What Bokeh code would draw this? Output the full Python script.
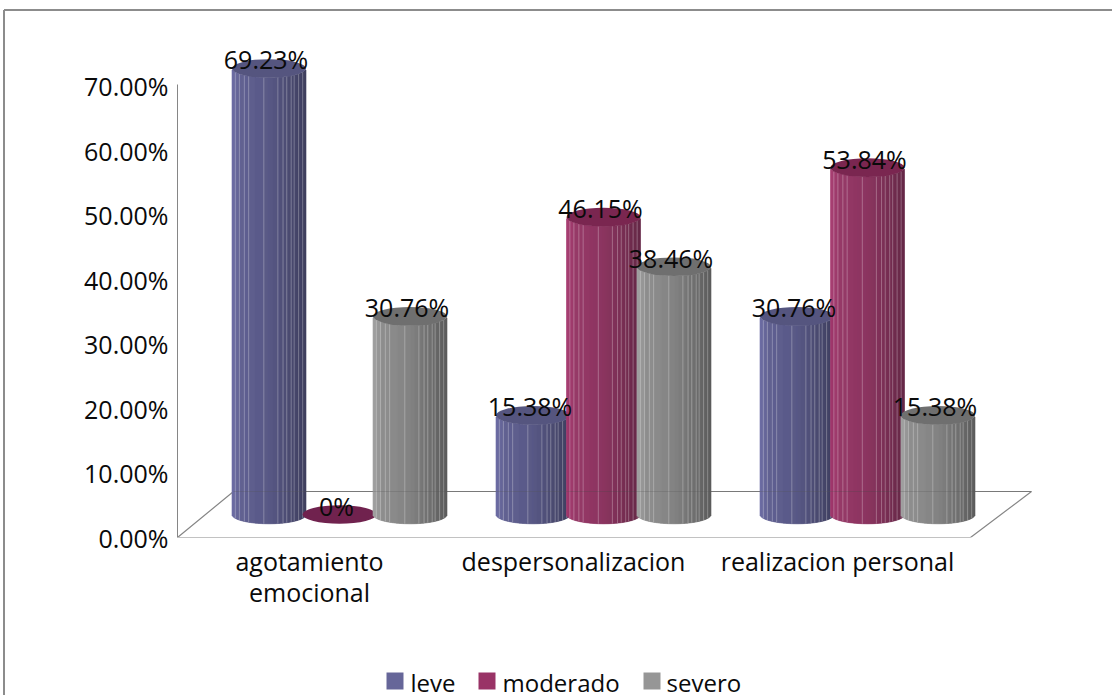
import math
from bokeh.core.properties import value
from bokeh.embed import file_html
from bokeh.models import FixedTicker, PrintfTickFormatter, Range1d
from bokeh.plotting import figure
from bokeh.resources import INLINE

categories = ["agotamiento\nemocional", "despersonalizacion", "realizacion personal"]
series_names = ["leve", "moderado", "severo"]
leve = [69.23, 15.38, 30.76]
moderado = [0, 46.15, 53.84]
severo = [30.76, 38.46, 15.38]
value_ticks = [0, 10, 20, 30, 40, 50, 60, 70]
label_texts = [["69.23%", "15.38%", "30.76%"], ["0%", "46.15%", "53.84%"], ["30.76%", "38.46%", "15.38%"]]
series_colors = ["#666699", "#993366", "#969696"]
lid_colors = ["#55557f", "#7a2650", "#6f6f6f"]
flat_color = "#70224e"
FONT = "Open Sans"
LINE = "#868686"
INK = "#0a0a0a"

# Canvas geometry: the plot frame spans the area right of the value axis and above the floor front
WIDTH, HEIGHT = 1112, 695
LEFT, FLOOR_PX = 177, 537
PX_PER_UNIT_Y = 6.443
PX_PER_GROUP = 264.0
GROUP0_PX = 339.0
LABEL_SHIFT = 30 / PX_PER_GROUP

def xd(px):
    return (px - GROUP0_PX) / PX_PER_GROUP

def yd(px):
    return (FLOOR_PX - px) / PX_PER_UNIT_Y

p = figure(width=WIDTH, height=HEIGHT, output_backend="svg", toolbar_location=None,
           x_range=Range1d(xd(LEFT), xd(WIDTH)), y_range=Range1d(0, yd(0)),
           min_border_left=LEFT, min_border_right=0, min_border_top=0,
           min_border_bottom=HEIGHT - FLOOR_PX, outline_line_color=None,
           background_fill_color="white", border_fill_color="white")
p.grid.visible = False

# Value axis
ya = p.yaxis[0]
ya.ticker = FixedTicker(ticks=value_ticks)
ya.formatter = PrintfTickFormatter(format="%.2f%%")
ya.bounds = (0, 70.3)
ya.axis_line_color = LINE
ya.axis_line_width = 1
ya.major_tick_line_color = None
ya.minor_tick_line_color = None
ya.major_label_text_font = FONT
ya.major_label_text_font_size = "25px"
ya.major_label_text_color = INK
ya.major_label_standoff = 3

# Category axis: labels sit under the front edge of the floor, left of the columns
xa = p.xaxis[0]
tick_positions = [i - LABEL_SHIFT for i in range(len(categories))]
xa.ticker = FixedTicker(ticks=tick_positions)
xa.major_label_overrides = {t: c for t, c in zip(tick_positions, categories)}
xa.axis_line_color = None
xa.major_tick_line_color = None
xa.minor_tick_line_color = None
xa.major_label_text_font = FONT
xa.major_label_text_font_size = "25px"
xa.major_label_text_color = INK
xa.major_label_text_line_height = 0.92
xa.major_label_standoff = 0

# Chart-area border along the top and left of the canvas
p.line([xd(3.5), xd(WIDTH)], [yd(9.5), yd(9.5)], line_color="#8c8c8c", line_width=2, level="overlay")
p.line([xd(3.5), xd(3.5)], [yd(9.5), yd(HEIGHT)], line_color="#8c8c8c", line_width=2, level="overlay")

# Floor of the 3D box
floor_x = [xd(LEFT), xd(233), xd(1031), xd(970), xd(LEFT)]
floor_y = [0, yd(491), yd(491), 0, 0]
p.line(floor_x, floor_y, line_color=LINE, line_width=1.2)

FLOOR_LIFT = 23 / PX_PER_UNIT_Y
HALF_W = 37.0 / PX_PER_GROUP
HALF_H = 9.3 / PX_PER_UNIT_Y
SERIES_STEP = 70.5 / PX_PER_GROUP
SHADE_U = [-1, -0.75, 0, 0.5, 1]
SHADE_F = [1.08, 0.96, 0.88, 0.76, 0.62]
SEAMS = [0.045, 0.1, 0.167, 0.225, 0.43, 0.62, 0.69, 0.74, 0.80, 0.84, 0.90, 0.955]
STRIPS = 74

def shade(hex_color, u):
    for i in range(len(SHADE_U) - 1):
        if u <= SHADE_U[i + 1]:
            t = (u - SHADE_U[i]) / (SHADE_U[i + 1] - SHADE_U[i])
            f = SHADE_F[i] + t * (SHADE_F[i + 1] - SHADE_F[i])
            break
    rgb = [int(hex_color[k:k + 2], 16) for k in (1, 3, 5)]
    return "#%02x%02x%02x" % tuple(min(255, int(c * f)) for c in rgb)

def arc(u):
    return HALF_H * math.sqrt(max(0.0, 1 - u * u))

def cylinder(cx, val, color, lid):
    """One column: shaded facets, pale facet seams, then the lid."""
    base = FLOOR_LIFT
    top = FLOOR_LIFT + val
    if val > 0:
        us = [-1 + 2 * (i + 0.5) / STRIPS for i in range(STRIPS)]
        fills = [shade(color, u) for u in us]
        p.quad(left=[cx + HALF_W * (u - 1 / STRIPS) for u in us],
               right=[cx + HALF_W * (u + 1 / STRIPS) for u in us],
               bottom=[base - arc(u) for u in us],
               top=[top - arc(u) for u in us],
               fill_color=fills, line_color=fills, line_width=0.6)
        seam_u = [2 * s - 1 for s in SEAMS]
        seam_x = [cx + HALF_W * u for u in seam_u]
        p.segment(x0=seam_x, x1=seam_x,
                  y0=[base - arc(u) for u in seam_u],
                  y1=[top - arc(u) for u in seam_u],
                  line_color="white", line_alpha=0.28, line_width=1)
    p.ellipse(x=[cx], y=[top], width=[2 * HALF_W], height=[2 * HALF_H],
              fill_color=lid, line_color=None)

all_values = [leve, moderado, severo]
for g in range(len(categories)):
    for s, vals in enumerate(all_values):
        lid = lid_colors[s] if vals[g] > 0 else flat_color
        cylinder(g + (s - 1) * SERIES_STEP, vals[g], series_colors[s], lid)

# Back edge of the floor shows faintly through the columns
p.line(floor_x[1:3], floor_y[1:3], line_color="#555555", line_alpha=0.25, line_width=1)

# Value labels
lx, ly, lt = [], [], []
for s, vals in enumerate(all_values):
    for g, v in enumerate(vals):
        lx.append(g + (s - 1) * SERIES_STEP - 3 / PX_PER_GROUP)
        ly.append(v + FLOOR_LIFT)
        lt.append(label_texts[s][g])
p.text(x=lx, y=ly, text=lt, text_font=value(FONT), text_font_size="25px", text_color=INK,
       text_align="center", text_baseline="middle", y_offset=-9)

# Legend row along the bottom of the canvas, below the plot frame
swatch_left = [386, 478, 643]
text_left = [410, 502, 666]
SWATCH = 17
SWATCH_TOP, TEXT_MID = 672, 682
p.quad(left=[xd(a) for a in swatch_left], right=[xd(a + SWATCH) for a in swatch_left],
       top=[yd(SWATCH_TOP)] * 3, bottom=[yd(SWATCH_TOP + SWATCH)] * 3,
       fill_color=series_colors, line_color=None, level="overlay")
p.text(x=[xd(a) for a in text_left], y=[yd(TEXT_MID)] * 3, text=series_names,
       text_font=value(FONT), text_font_size="24px", text_color=INK,
       text_align="left", text_baseline="middle", level="overlay")

open("out.html", "w").write(file_html(p, INLINE))
